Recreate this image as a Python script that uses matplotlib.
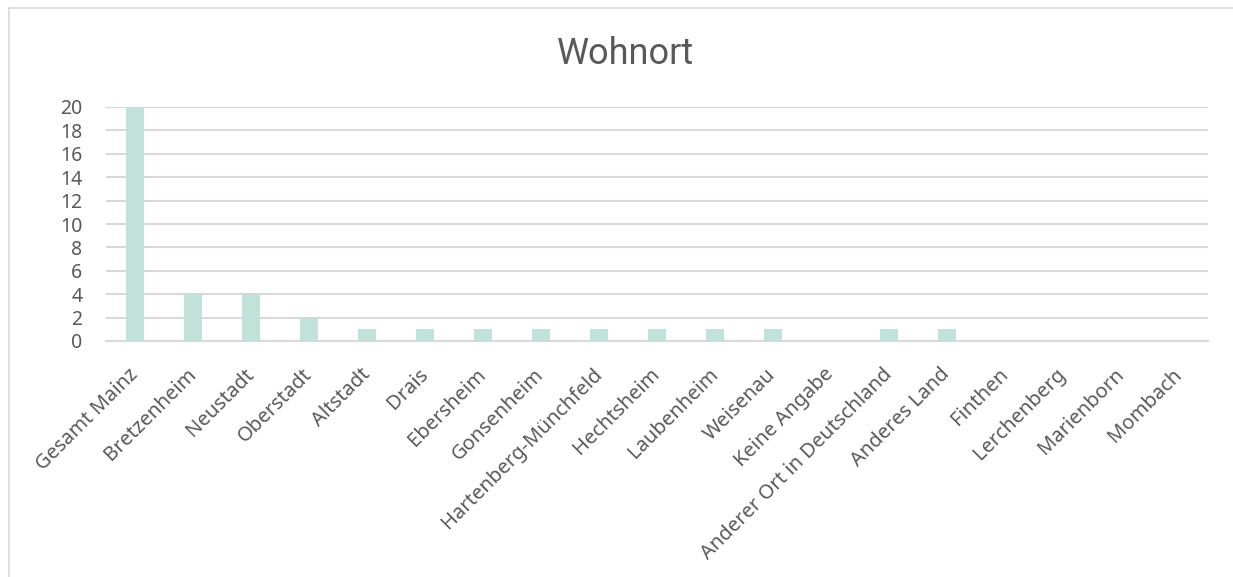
import matplotlib
matplotlib.use("Agg")
import matplotlib.pyplot as plt
from matplotlib.lines import Line2D

categories = ["Gesamt Mainz", "Bretzenheim", "Neustadt", "Oberstadt", "Altstadt",
              "Drais", "Ebersheim", "Gonsenheim", "Hartenberg-Münchfeld", "Hechtsheim",
              "Laubenheim", "Weisenau", "Keine Angabe", "Anderer Ort in Deutschland",
              "Anderes Land", "Finthen", "Lerchenberg", "Marienborn", "Mombach"]
values = [20, 4, 4, 2, 1, 1, 1, 1, 1, 1, 1, 1, 0, 1, 1, 0, 0, 0, 0]
y_ticks = [0, 2, 4, 6, 8, 10, 12, 14, 16, 18, 20]

W, H = 1233, 577
fig = plt.figure(figsize=(W / 100, H / 100), dpi=100)
fig.patch.set_facecolor("white")

text_color = "#595959"
grid_color = "#D9D9D9"
bar_color = "#C0E2D8"

ax = fig.add_axes([106 / W, 1 - 341 / H, (1208 - 106) / W, (341 - 107) / H])
x = list(range(len(categories)))
ax.bar(x, values, width=0.31, color=bar_color, zorder=3)
ax.set_xlim(-0.5, len(categories) - 0.5)
ax.set_ylim(0, 20)
ax.set_yticks(y_ticks)
ax.set_yticklabels([str(v) for v in y_ticks], fontfamily="Noto Sans", fontsize=14, color=text_color)
ax.set_xticks(x)
ax.set_xticklabels(categories, rotation=45, ha="right", va="center", rotation_mode="anchor",
                   fontfamily="Noto Sans", fontsize=14.5, color=text_color)
ax.tick_params(axis="x", length=0, pad=22)
ax.tick_params(axis="y", length=0, pad=17)
ax.yaxis.grid(True, color=grid_color, linewidth=1.5, zorder=0)
ax.set_axisbelow(True)
for s in ["top", "right", "left"]:
    ax.spines[s].set_visible(False)
ax.spines["bottom"].set_color(grid_color)
ax.spines["bottom"].set_linewidth(1.5)
ax.spines["bottom"].set_zorder(1)

fig.text(625 / W, 1 - 54 / H, "Wohnort", ha="center", va="center",
         fontfamily="Roboto", fontsize=26, color=text_color)

# outer frame (top and left edges visible)
fig.add_artist(Line2D([9 / W, 1.0], [1 - 8 / H, 1 - 8 / H], color=grid_color, linewidth=1.2,
                      transform=fig.transFigure))
fig.add_artist(Line2D([9 / W, 9 / W], [0, 1 - 8 / H], color=grid_color, linewidth=1.2,
                      transform=fig.transFigure))

fig.savefig("out.png", dpi=100, facecolor="white")
